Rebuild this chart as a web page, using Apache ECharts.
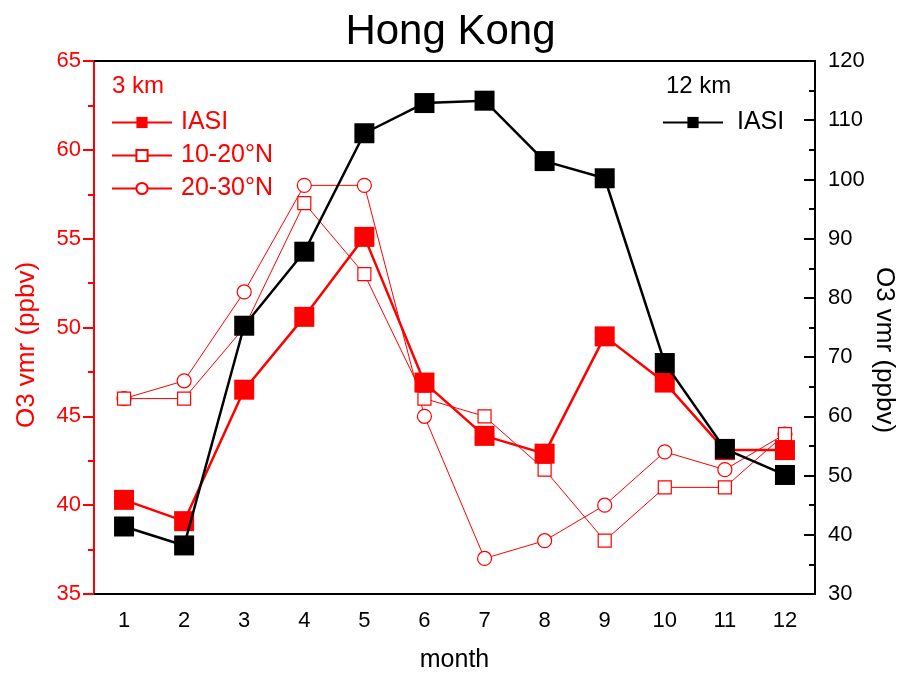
<!DOCTYPE html>
<html>
<head>
<meta charset="utf-8">
<script src="https://cdn.jsdelivr.net/npm/echarts@6/dist/echarts.min.js"></script>
<style>html,body{margin:0;padding:0;background:#fff;}#c{width:901px;height:673px;}</style>
</head>
<body>
<div id="c"></div>
<script>
const months = ['1','2','3','4','5','6','7','8','9','10','11','12'];
const iasi3km = [40.3, 39.1, 46.5, 50.6, 55.1, 46.9, 43.9, 42.9, 49.5, 46.9, 43.1, 43.1];
const n10_20 = [46, 46, 50, 57, 53, 46, 45, 42, 38, 41, 41, 44];
const n20_30 = [46, 47, 52, 58, 58, 45, 37, 38, 40, 43, 42, 44];
const iasi12km = [41.4, 38.2, 75.3, 87.8, 107.8, 112.9, 113.3, 103.1, 100.2, 69.0, 54.5, 50.1];

const FONT = '"Liberation Sans", Arial, sans-serif';
const RED = '#ff0000';
const chart = echarts.init(document.getElementById('c'));
chart.setOption({
  animation: false,
  backgroundColor: '#fff',
  textStyle: { fontFamily: FONT },
  title: {
    text: 'Hong Kong', left: 'center', top: 6,
    textStyle: { fontFamily: FONT, fontSize: 42, fontWeight: 'normal', color: '#000' }
  },
  grid: { left: 94, right: 86, top: 61, bottom: 79, outerBoundsMode: 'none', containLabel: false },
  graphic: [
    { type: 'text', left: 112, top: 74, style: { text: '3 km', fontFamily: FONT, fontSize: 24, fill: RED } },
    { type: 'text', left: 666, top: 74, style: { text: '12 km', fontFamily: FONT, fontSize: 24, fill: '#000' } },
    { type: 'text', x: 27, y: 345, rotation: Math.PI / 2,
      style: { text: 'O3 vmr (ppbv)', fontFamily: FONT, fontSize: 26, fill: RED, align: 'center', verticalAlign: 'middle' } },
    { type: 'text', x: 884, y: 350, rotation: -Math.PI / 2,
      style: { text: 'O3 vmr (ppbv)', fontFamily: FONT, fontSize: 26, fill: '#000', align: 'center', verticalAlign: 'middle' } }
  ],
  legend: [
    {
      orient: 'vertical', left: 106, top: 105, itemWidth: 60, itemHeight: 14, itemGap: 8,
      data: ['IASI', '10-20°N', '20-30°N'],
      textStyle: { fontFamily: FONT, fontSize: 25, color: RED, padding: [0, 0, 0, 4] }
    },
    {
      orient: 'vertical', left: 657, top: 105, itemWidth: 60, itemHeight: 14,
      data: ['IASI 12 km'],
      formatter: function () { return 'IASI'; },
      textStyle: { fontFamily: FONT, fontSize: 25, color: '#000', padding: [0, 0, 0, 9] }
    }
  ],
  xAxis: [
    {
      type: 'category', data: months, position: 'bottom', boundaryGap: true,
      name: 'month', nameLocation: 'middle', nameGap: 54,
      nameTextStyle: { fontFamily: FONT, fontSize: 25, color: '#000' },
      axisLine: { lineStyle: { color: '#000', width: 2 } },
      axisTick: { alignWithLabel: true, inside: false, length: 10, lineStyle: { color: '#000', width: 2 } },
      axisLabel: { fontFamily: FONT, fontSize: 22, color: '#000', margin: 16 },
      splitLine: { show: false }
    },
    {
      type: 'category', data: months, position: 'top', boundaryGap: true,
      axisLine: { lineStyle: { color: '#000', width: 2 } },
      axisTick: { alignWithLabel: true, inside: true, length: 10, lineStyle: { color: '#000', width: 2 } },
      axisLabel: { show: false },
      splitLine: { show: false }
    }
  ],
  yAxis: [
    {
      type: 'value', min: 35, max: 65, interval: 5, position: 'left',
      axisLine: { show: true, lineStyle: { color: RED, width: 2 } },
      axisTick: { show: true, inside: false, length: 11, lineStyle: { color: RED, width: 2 } },
      minorTick: { show: true, splitNumber: 2, length: 6, lineStyle: { color: RED, width: 2 } },
      axisLabel: { fontFamily: FONT, fontSize: 22, color: RED, margin: 13 },
      splitLine: { show: false }
    },
    {
      type: 'value', min: 30, max: 120, interval: 10, position: 'right',
      axisLine: { show: true, lineStyle: { color: '#000', width: 2 } },
      axisTick: { show: true, inside: true, length: 11, lineStyle: { color: '#000', width: 2 } },
      minorTick: { show: true, splitNumber: 2, length: 6, lineStyle: { color: '#000', width: 2 } },
      axisLabel: { fontFamily: FONT, fontSize: 22, color: '#000', margin: 13 },
      splitLine: { show: false }
    }
  ],
  series: [
    {
      name: '20-30°N', type: 'line', xAxisIndex: 0, yAxisIndex: 0, data: n20_30, z: 2,
      symbol: 'circle', symbolSize: 14,
      lineStyle: { color: RED, width: 1 },
      itemStyle: { color: '#fff', borderColor: RED, borderWidth: 1.2 }
    },
    {
      name: '10-20°N', type: 'line', xAxisIndex: 0, yAxisIndex: 0, data: n10_20, z: 3,
      symbol: 'rect', symbolSize: 13,
      lineStyle: { color: RED, width: 1 },
      itemStyle: { color: '#fff', borderColor: RED, borderWidth: 1.2 }
    },
    {
      name: 'IASI', type: 'line', xAxisIndex: 0, yAxisIndex: 0, data: iasi3km, z: 4,
      symbol: 'rect', symbolSize: 20,
      lineStyle: { color: RED, width: 2.5 },
      itemStyle: { color: RED, borderWidth: 0 }
    },
    {
      name: 'IASI 12 km', type: 'line', xAxisIndex: 0, yAxisIndex: 1, data: iasi12km, z: 5,
      symbol: 'rect', symbolSize: 20,
      lineStyle: { color: '#000', width: 2.5 },
      itemStyle: { color: '#000', borderWidth: 0 }
    }
  ]
});
</script>
</body>
</html>
